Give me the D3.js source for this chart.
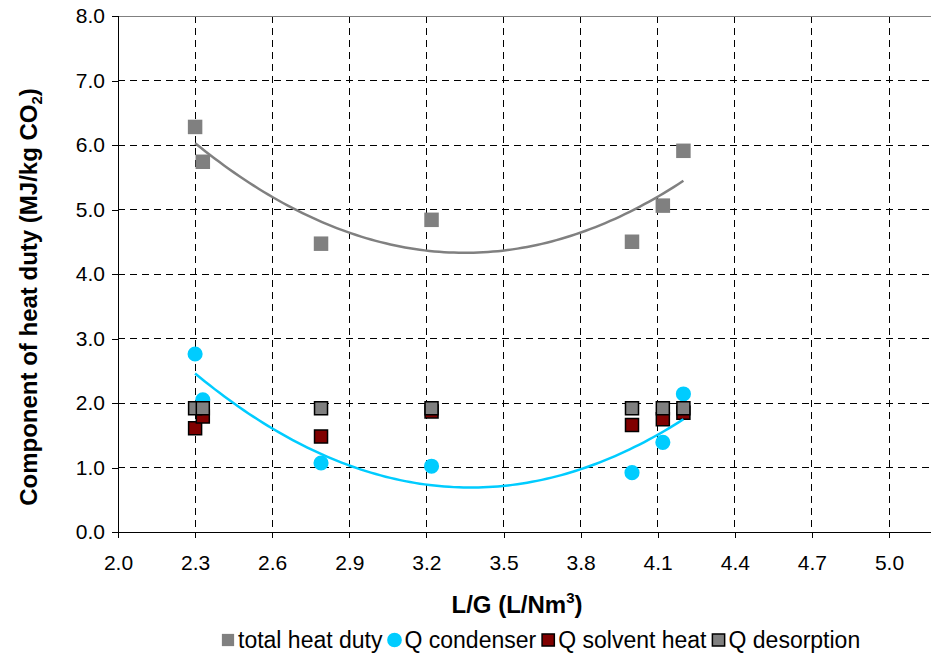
<!DOCTYPE html>
<html>
<head>
<meta charset="utf-8">
<script src="https://cdn.jsdelivr.net/npm/d3@7"></script>
<style>
  html, body { margin: 0; padding: 0; background: #fff; }
  svg { display: block; font-family: Arial, "Liberation Sans", sans-serif; }
</style>
</head>
<body>
<svg id="chart" width="931" height="655"></svg>
<script>
// L/G ratio of each run (L/Nm3)
const lgRatio = [2.30, 2.33, 2.79, 3.22, 4.00, 4.12, 4.20];
// Heat duty components, MJ/kg CO2
const totalHeatDuty = [6.28, 5.74, 4.47, 4.84, 4.50, 5.06, 5.91];
const qCondenser    = [2.76, 2.05, 1.07, 1.02, 0.92, 1.39, 2.14];
const qSolventHeat  = [1.61, 1.79, 1.48, 1.87, 1.66, 1.75, 1.85];
const qDesorption   = [1.92, 1.92, 1.92, 1.92, 1.92, 1.92, 1.92];

const xTicks = [2.0, 2.3, 2.6, 2.9, 3.2, 3.5, 3.8, 4.1, 4.4, 4.7, 5.0];
const yTicks = [0, 1, 2, 3, 4, 5, 6, 7, 8];

const svg = d3.select("#chart");
const W = 931;
const plotLeft = 118, plotTop = 16, plotBottom = 532;
const FONT = "Arial, 'Liberation Sans', sans-serif";

const x = d3.scaleLinear().domain([2.0, 5.0]).range([plotLeft, plotLeft + 771]);
const y = d3.scaleLinear().domain([0, 8]).range([plotBottom, plotTop]);

// Dashed grid
const grid = svg.append("g").attr("stroke", "#000").attr("stroke-width", 1)
  .attr("stroke-dasharray", "7,5").attr("shape-rendering", "crispEdges");
yTicks.filter(v => v > 0 && v < 8).forEach(v => {
  grid.append("line").attr("x1", plotLeft).attr("x2", W).attr("y1", y(v)).attr("y2", y(v));
});
xTicks.filter(v => v > 2.0).forEach(v => {
  grid.append("line").attr("x1", x(v)).attr("x2", x(v)).attr("y1", plotTop).attr("y2", plotBottom);
});

// Plot-area top border
svg.append("line").attr("x1", plotLeft).attr("x2", W).attr("y1", plotTop).attr("y2", plotTop)
  .attr("stroke", "#808080").attr("stroke-width", 1).attr("shape-rendering", "crispEdges");

// Axes
const xAxis = d3.axisBottom(x).tickValues(xTicks).tickFormat(d3.format(".1f")).tickSize(6).tickPadding(17);
const yAxis = d3.axisLeft(y).tickValues(yTicks).tickFormat(d3.format(".1f")).tickSize(6).tickPadding(7);

const gx = svg.append("g").attr("transform", `translate(0,${plotBottom})`).call(xAxis);
gx.select(".domain").remove();
gx.append("line").attr("x1", plotLeft - 6).attr("x2", W).attr("y1", 0).attr("y2", 0)
  .attr("stroke", "#000").attr("shape-rendering", "crispEdges");
gx.selectAll(".tick line").attr("shape-rendering", "crispEdges");
gx.selectAll("text").attr("font-size", 21).attr("fill", "#000").attr("font-family", FONT);

const gy = svg.append("g").attr("transform", `translate(${plotLeft},0)`).call(yAxis);
gy.select(".domain").remove();
gy.append("line").attr("x1", 0).attr("x2", 0).attr("y1", plotTop).attr("y2", plotBottom + 6)
  .attr("stroke", "#000").attr("shape-rendering", "crispEdges");
gy.selectAll(".tick line").attr("shape-rendering", "crispEdges");
gy.selectAll("text").attr("font-size", 21).attr("fill", "#000").attr("font-family", FONT);

// Least-squares quadratic fit y = a + b x + c x^2
function quadFit(xs, ys) {
  const n = xs.length;
  let s = [0, 0, 0, 0, 0], t = [0, 0, 0];
  for (let i = 0; i < n; i++) {
    let p = 1;
    for (let k = 0; k < 5; k++) { s[k] += p; p *= xs[i]; }
    t[0] += ys[i]; t[1] += ys[i] * xs[i]; t[2] += ys[i] * xs[i] * xs[i];
  }
  const M = [[s[0], s[1], s[2], t[0]], [s[1], s[2], s[3], t[1]], [s[2], s[3], s[4], t[2]]];
  for (let i = 0; i < 3; i++) {
    let piv = i;
    for (let r = i + 1; r < 3; r++) if (Math.abs(M[r][i]) > Math.abs(M[piv][i])) piv = r;
    [M[i], M[piv]] = [M[piv], M[i]];
    for (let r = 0; r < 3; r++) {
      if (r === i) continue;
      const f = M[r][i] / M[i][i];
      for (let c = i; c < 4; c++) M[r][c] -= f * M[i][c];
    }
  }
  const a = M[0][3] / M[0][0], b = M[1][3] / M[1][1], c = M[2][3] / M[2][2];
  return v => a + b * v + c * v * v;
}

const symSquare = d3.symbol().type(d3.symbolSquare).size(210);
const symCircle = d3.symbol().type(d3.symbolCircle).size(180);
const symSquareEdged = d3.symbol().type(d3.symbolSquare).size(169);

function markers(values, sym, fill, stroke) {
  svg.append("g").selectAll("path").data(lgRatio.map((v, i) => [v, values[i]]))
    .join("path")
    .attr("d", sym)
    .attr("transform", d => `translate(${x(d[0])},${y(d[1])})`)
    .attr("fill", fill)
    .attr("stroke", stroke || "none")
    .attr("stroke-width", stroke ? 1.5 : 0);
}

markers(totalHeatDuty, symSquare, "#808080");
markers(qCondenser, symCircle, "#00CCFF");
markers(qSolventHeat, symSquareEdged, "#800000", "#000");
markers(qDesorption, symSquareEdged, "#808080", "#000");

// Polynomial (order 2) trendlines
function trend(values, color) {
  const f = quadFit(lgRatio, values);
  const x0 = d3.min(lgRatio), x1 = d3.max(lgRatio);
  const pts = d3.range(0, 101).map(i => { const v = x0 + (x1 - x0) * i / 100; return [v, f(v)]; });
  svg.append("path").datum(pts)
    .attr("d", d3.line().x(d => x(d[0])).y(d => y(d[1])))
    .attr("fill", "none").attr("stroke", color).attr("stroke-width", 2.5);
}
trend(totalHeatDuty, "#808080");
trend(qCondenser, "#00CCFF");

// Axis titles
const xt = svg.append("text").attr("x", 517).attr("y", 613).attr("text-anchor", "middle")
  .attr("font-size", 24).attr("font-weight", "bold").attr("fill", "#000");
xt.append("tspan").text("L/G (L/Nm");
xt.append("tspan").attr("font-size", 15).attr("dy", -10).text("3");
xt.append("tspan").attr("dy", 10).text(")");

const yt = svg.append("text").attr("transform", "translate(37,297) rotate(-90)")
  .attr("text-anchor", "middle").attr("font-size", 24).attr("font-weight", "bold").attr("fill", "#000");
yt.append("tspan").text("Component of heat duty (MJ/kg CO");
yt.append("tspan").attr("font-size", 15).attr("dy", 5).text("2");
yt.append("tspan").attr("dy", -5).text(")");

// Legend
const legendItems = [
  { label: "total heat duty", sym: d3.symbolSquare, fill: "#808080", stroke: null },
  { label: "Q condenser", sym: d3.symbolCircle, fill: "#00CCFF", stroke: null },
  { label: "Q solvent heat", sym: d3.symbolSquare, fill: "#800000", stroke: "#000" },
  { label: "Q desorption", sym: d3.symbolSquare, fill: "#808080", stroke: "#000" }
];
const lg = svg.append("g").attr("transform", "translate(222,640)");
let cx = 0;
legendItems.forEach(it => {
  lg.append("path").attr("d", d3.symbol().type(it.sym).size(it.sym === d3.symbolCircle ? 170 : 150)())
    .attr("transform", `translate(${cx + 6},0)`)
    .attr("fill", it.fill).attr("stroke", it.stroke || "none").attr("stroke-width", it.stroke ? 1.5 : 0);
  const t = lg.append("text").attr("x", cx + 16).attr("y", 8).attr("font-size", 23).attr("fill", "#000").text(it.label);
  cx += 16 + t.node().getComputedTextLength() + 6;
});
</script>
</body>
</html>
